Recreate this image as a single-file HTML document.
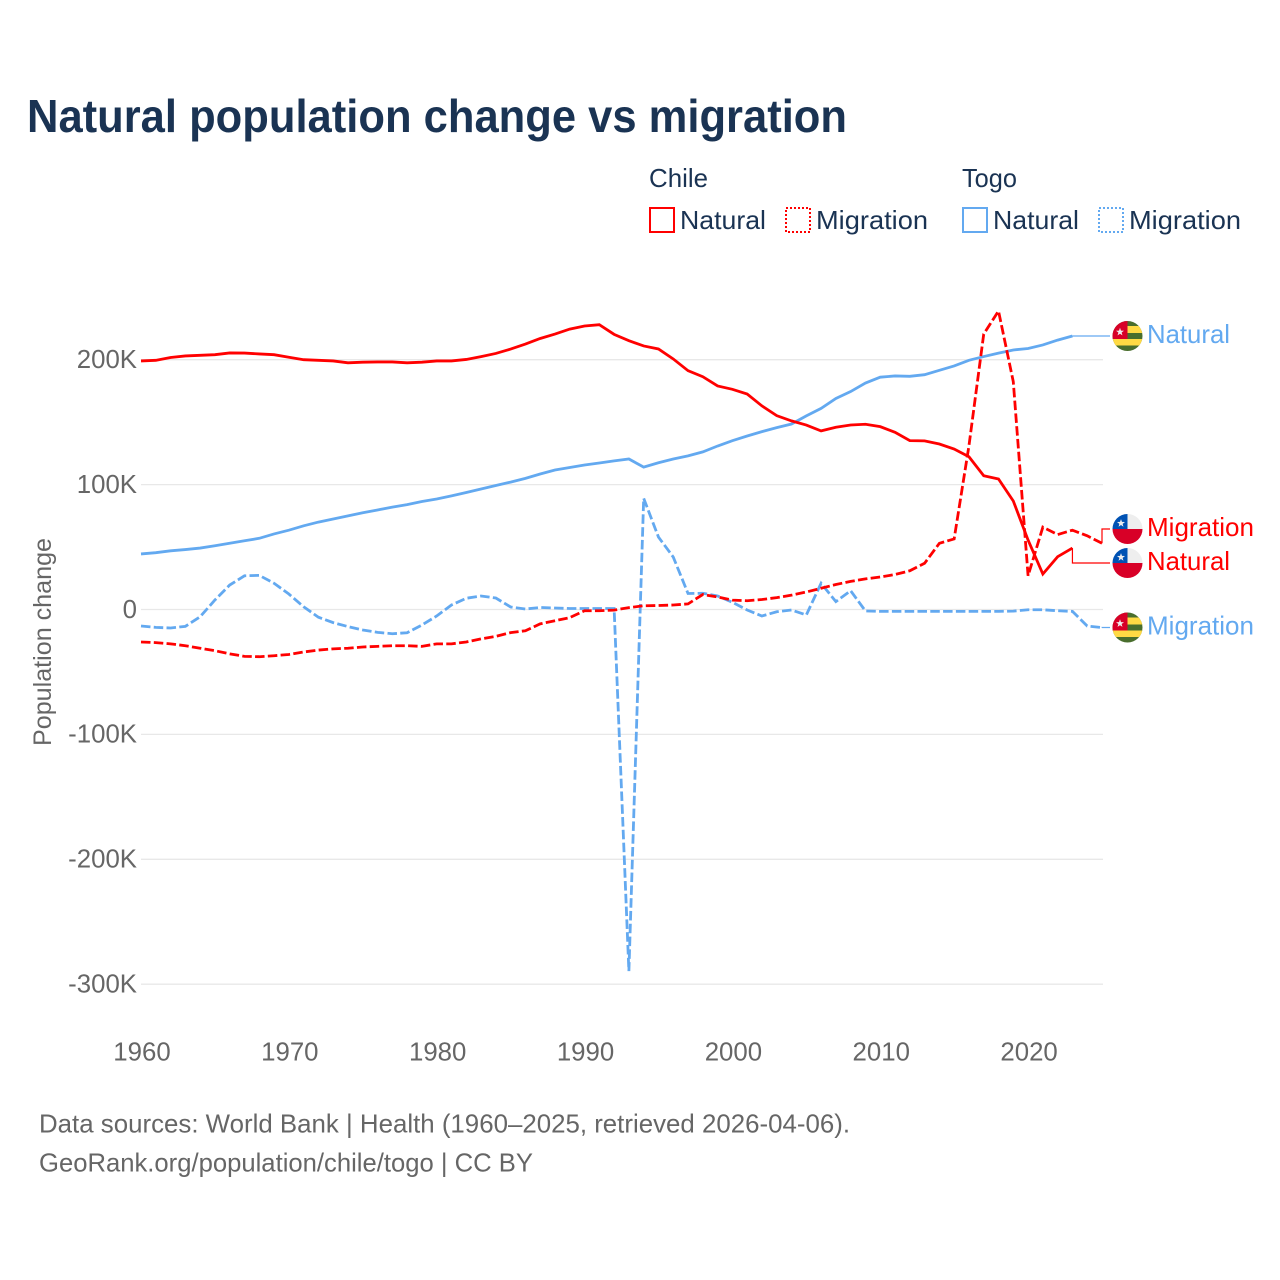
<!DOCTYPE html>
<html lang="en">
<head>
<meta charset="utf-8">
<title>Natural population change vs migration</title>
<style>
html,body{margin:0;padding:0;background:#fff;}
svg{display:block;font-family:"Liberation Sans",sans-serif;}
</style>
</head>
<body>
<svg id="chart" width="1280" height="1280" viewBox="0 0 1280 1280" xmlns="http://www.w3.org/2000/svg">
<defs>
<clipPath id="flag-clip"><circle cx="0" cy="0" r="15"/></clipPath>
<g id="flag-togo" clip-path="url(#flag-clip)">
<rect x="-15" y="-15" width="30" height="30" fill="#496e2d"/>
<rect x="0" y="-10" width="15" height="7" fill="#ffda44"/>
<rect x="-15" y="3" width="30" height="6.5" fill="#ffda44"/>
<rect x="-15" y="-15" width="15" height="18" fill="#d80027"/>
<polygon points="-7.5,-8.2 -6.5,-5.38 -3.5,-5.3 -5.88,-3.47 -5.03,-0.6 -7.5,-2.3 -9.97,-0.6 -9.12,-3.47 -11.5,-5.3 -8.5,-5.38" fill="#eee"/>
</g>
<g id="flag-chile" clip-path="url(#flag-clip)">
<rect x="-15" y="-15" width="30" height="15" fill="#eee"/>
<rect x="-15" y="0" width="30" height="15" fill="#d80027"/>
<rect x="-15" y="-15" width="15" height="15" fill="#0052b4"/>
<polygon points="-6.5,-9.9 -5.5,-7.08 -2.5,-7 -4.88,-5.17 -4.03,-2.3 -6.5,-4 -8.97,-2.3 -8.12,-5.17 -10.5,-7 -7.5,-7.08" fill="#eee"/>
</g>
</defs>

<text x="27" y="132" font-size="46" font-weight="700" fill="#1a3353" textLength="820" lengthAdjust="spacingAndGlyphs">Natural population change vs migration</text>

<g font-size="26" fill="#1a3353">
<text x="649" y="187" textLength="59" lengthAdjust="spacingAndGlyphs">Chile</text>
<text x="962" y="187" textLength="55" lengthAdjust="spacingAndGlyphs">Togo</text>
<rect x="650" y="208" width="24" height="24" fill="none" stroke="#ff0000" stroke-width="2"/>
<text x="680" y="229" textLength="86" lengthAdjust="spacingAndGlyphs">Natural</text>
<rect x="786" y="208" width="24" height="24" fill="none" stroke="#ff0000" stroke-width="2" stroke-dasharray="2 2"/>
<text x="816" y="229" textLength="112" lengthAdjust="spacingAndGlyphs">Migration</text>
<rect x="963" y="208" width="24" height="24" fill="none" stroke="#63a9f0" stroke-width="2"/>
<text x="993" y="229" textLength="86" lengthAdjust="spacingAndGlyphs">Natural</text>
<rect x="1099" y="208" width="24" height="24" fill="none" stroke="#63a9f0" stroke-width="2" stroke-dasharray="2 2"/>
<text x="1129" y="229" textLength="112" lengthAdjust="spacingAndGlyphs">Migration</text>
</g>

<g id="grid"></g>
<g id="yticks"></g>
<g id="xticks"></g>
<text transform="translate(51,642) rotate(-90)" text-anchor="middle" font-size="25" fill="#666" textLength="208" lengthAdjust="spacingAndGlyphs">Population change</text>
<g id="series"></g>
<g id="ends"></g>

<text x="39" y="1132.5" font-size="26" fill="#666" textLength="811" lengthAdjust="spacingAndGlyphs">Data sources: World Bank | Health (1960–2025, retrieved 2026-04-06).</text>
<a><text x="39" y="1171.5" font-size="26" fill="#666" textLength="494" lengthAdjust="spacingAndGlyphs">GeoRank.org/population/chile/togo | CC BY</text></a>
</svg>

<script>
const years = [1960,1961,1962,1963,1964,1965,1966,1967,1968,1969,
1970,1971,1972,1973,1974,1975,1976,1977,1978,1979,
1980,1981,1982,1983,1984,1985,1986,1987,1988,1989,
1990,1991,1992,1993,1994,1995,1996,1997,1998,1999,
2000,2001,2002,2003,2004,2005,2006,2007,2008,2009,
2010,2011,2012,2013,2014,2015,2016,2017,2018,2019,
2020,2021,2022,2023,2024,2025];

const chileNatural = [199,199.5,201.8,203,203.5,204,205.4,205.3,204.6,204,
202,200,199.5,199,197.5,198,198.2,198.2,197.5,198,
199,199,200.2,202.5,205,208.5,212.5,217,220.5,224.5,
227,228,220.3,215.2,211,208.6,200.6,191.2,186.4,179,
176.3,172.5,163,155.2,151,147.7,143,145.9,147.7,148.3,
146.4,141.9,135.2,135,132.5,128.5,122.3,107.1,104.5,86.9,
55.6,28.4,42.3,49.2];

const chileMigration = [-26,-26.5,-27.5,-29,-31,-33,-35.5,-37.5,-37.8,-37,
-36,-34,-32.5,-31.5,-31,-30,-29.5,-29,-29,-29.5,
-27.5,-27.5,-26,-23.5,-21.5,-18.5,-17,-11.5,-9,-6.5,
-1,-1,-0.5,1.5,3,3.2,3.6,4.5,12,10,
7.5,7,8,9.5,11.5,14,17,20,22.5,24.5,
26,28,31,37,53,56.5,131,220.5,239,182.4,
27,66,60,63.5,59,53];

const togoNatural = [44.5,45.5,47,48,49.2,51,53,55,57,60.5,
63.5,67,70,72.5,75,77.5,79.7,82,84,86.5,
88.5,91,93.7,96.5,99.3,102,105,108.5,111.7,113.7,
115.7,117.3,119,120.5,114,117.5,120.5,123,126.2,130.9,
135.2,138.9,142.4,145.6,148.5,155,161,169,174.5,181.3,
186,187,186.7,188,191.5,195,199.5,202.5,205.3,207.8,
209,211.8,215.7,219];

const togoMigration = [-13.2,-14.3,-14.8,-13.5,-5.8,7.6,19.6,27,27.3,21,
12.4,2.2,-6.2,-10.5,-13.7,-16.4,-18.3,-19.4,-18.6,-12.4,
-5.2,3.6,9,10.8,9.2,2,0.4,1.6,1.2,0.8,
0.8,0.8,0.8,-289.5,89,58,42,12.8,13,10.8,
5.8,-0.4,-5.2,-1.8,-0.4,-4.4,21,6.3,15,-1.2,
-1.5,-1.5,-1.5,-1.5,-1.5,-1.5,-1.5,-1.5,-1.5,-1.3,
-0.2,-0.2,-1,-1.5,-13.2,-14.5];

const yTickValues = [200,100,0,-100,-200,-300];
const yTickLabels = ["200K","100K","0","-100K","-200K","-300K"];
const xTickValues = [1960,1970,1980,1990,2000,2010,2020];

const RED = "#ff0000";
const BLUE = "#63a9f0";
const NS = "http://www.w3.org/2000/svg";

function xScale(year){ return 141 + (year - 1960) * (1102 - 141) / 65; }
function yScale(k){ return 609.5 - k * 1.249; }

function make(tag, attrs, parent){
  const el = document.createElementNS(NS, tag);
  for (const k in attrs) el.setAttribute(k, attrs[k]);
  parent.appendChild(el);
  return el;
}

const gridG = document.getElementById("grid");
const yG = document.getElementById("yticks");
const xG = document.getElementById("xticks");
const seriesG = document.getElementById("series");
const endsG = document.getElementById("ends");

yTickValues.forEach(function(v, i){
  const y = yScale(v);
  const line = make("line", {x1:141, x2:1103, y1:y, y2:y, stroke:"#e8e8e8", "stroke-width":1.3}, gridG);
  
  
  const t = make("text", {x:137, y:y + 8.3, "text-anchor":"end", "font-size":25.8, fill:"#666"}, yG);
  
  
  t.textContent = yTickLabels[i];
});

xTickValues.forEach(function(v){
  const t = make("text", {x:xScale(v) + 1, y:1060.5, "text-anchor":"middle", "font-size":25.8, fill:"#666"}, xG);
  
  
  t.textContent = String(v);
});

function drawSeries(values, color, dashed, name){
  const pts = values.map(function(v, i){ return xScale(years[i]).toFixed(2) + "," + yScale(v).toFixed(2); }).join(" ");
  const attrs = {points:pts, fill:"none", stroke:color, "stroke-width":2.8, "stroke-linejoin":"miter", "stroke-miterlimit":4};
  if (dashed) attrs["stroke-dasharray"] = "9.5 3.3";
  const line = make("polyline", attrs, seriesG);
  
  
}

drawSeries(togoNatural, BLUE, false, "line-togo-natural");
drawSeries(togoMigration, BLUE, true, "line-togo-migration");
drawSeries(chileNatural, RED, false, "line-chile-natural");
drawSeries(chileMigration, RED, true, "line-chile-migration");

function drawEnd(values, color, flag, text, labelY, textWidth, name){
  const last = values.length - 1;
  const x0 = xScale(years[last]);
  const y0 = yScale(values[last]);
  const conn = make("polyline", {
    points: x0 + "," + y0 + " " + x0 + "," + labelY + " 1110," + labelY,
    fill:"none", stroke:color, "stroke-width":1.2
  }, endsG);
  
  
  const f = make("use", {href:"#" + flag, transform:"translate(1127.5," + labelY + ")"}, endsG);
  
  
  const t = make("text", {x:1147, y:labelY + 7, "font-size":26, fill:color, textLength:textWidth, lengthAdjust:"spacingAndGlyphs"}, endsG);
  
  
  t.textContent = text;
}

drawEnd(togoNatural, BLUE, "flag-togo", "Natural", 336, 83, "end-togo-natural");
drawEnd(chileMigration, RED, "flag-chile", "Migration", 529, 107, "end-chile-migration");
drawEnd(chileNatural, RED, "flag-chile", "Natural", 563, 83, "end-chile-natural");
drawEnd(togoMigration, BLUE, "flag-togo", "Migration", 627.5, 107, "end-togo-migration");
</script>
</body>
</html>
